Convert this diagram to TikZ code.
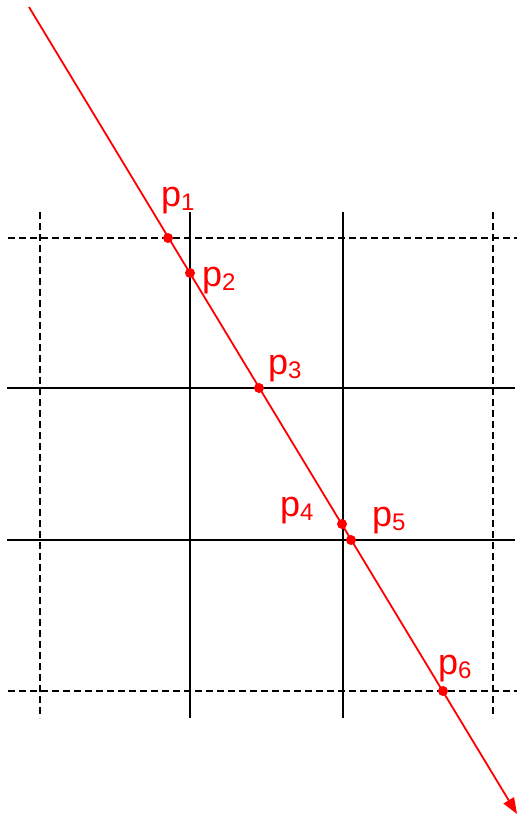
\documentclass[tikz,border=0pt]{standalone}
\usepackage{fontspec}
\setmainfont{Liberation Sans}
\usetikzlibrary{arrows.meta}
\newcommand\plbl[1]{p\raisebox{-4pt}{\fontsize{24}{24}\selectfont #1}}
\begin{document}
\begin{tikzpicture}[x=1pt,y=-1pt,
  gridsolid/.style={black,line width=2.5pt},
  griddash/.style={black,line width=1.6pt,dash pattern=on 7pt off 4pt},
  ray/.style={red,line width=1.8pt,-{Triangle[length=16pt,width=12pt]}},
  hit/.style={circle,fill=red,inner sep=0pt,minimum size=10pt},
  lbl/.style={red,anchor=base west,inner sep=0pt,font=\fontsize{36}{42}\selectfont}]
\useasboundingbox (0,0) rectangle (517,815);
% grid end points
\coordinate (hd1w) at (8,238);   \coordinate (hd1e) at (517,238);
\coordinate (hs1w) at (7,388);   \coordinate (hs1e) at (515,388);
\coordinate (hs2w) at (7,540);   \coordinate (hs2e) at (515,540);
\coordinate (hd2w) at (8,691);   \coordinate (hd2e) at (517,691);
\coordinate (vd1n) at (40,212);  \coordinate (vd1s) at (40,718);
\coordinate (vs1n) at (190,212); \coordinate (vs1s) at (190,718);
\coordinate (vs2n) at (343,212); \coordinate (vs2s) at (343,718);
\coordinate (vd2n) at (493,212); \coordinate (vd2s) at (493,718);
\draw[griddash] (hd1w) -- (hd1e);
\draw[griddash] (hd2w) -- (hd2e);
\draw[griddash] (vd1n) -- (vd1s);
\draw[griddash] (vd2n) -- (vd2s);
\draw[gridsolid] (hs1w) -- (hs1e);
\draw[gridsolid] (hs2w) -- (hs2e);
\draw[gridsolid] (vs1n) -- (vs1s);
\draw[gridsolid] (vs2n) -- (vs2s);
% ray
\coordinate (rs) at (29,7);
\coordinate (re) at (517,814);
\draw[ray] (rs) -- (re);
% intersection points
\node[hit] (p1) at (168,238) {};
\node[hit] (p2) at (190,273) {};
\node[hit] (p3) at (259,388) {};
\node[hit] (p4) at (342,524) {};
\node[hit] (p5) at (351,540) {};
\node[hit] (p6) at (443,691) {};
% labels
\node[lbl] (l1) at (161,206) {\plbl{1}};
\node[lbl] (l2) at (202,286) {\plbl{2}};
\node[lbl] (l3) at (268,374) {\plbl{3}};
\node[lbl] (l4) at (280,516) {\plbl{4}};
\node[lbl] (l5) at (372,526) {\plbl{5}};
\node[lbl] (l6) at (438,674) {\plbl{6}};
\end{tikzpicture}
\end{document}
